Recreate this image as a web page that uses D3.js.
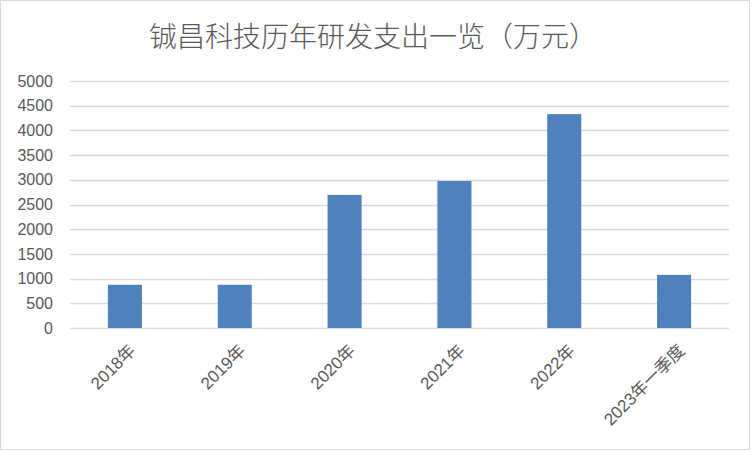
<!DOCTYPE html>
<html>
<head>
<meta charset="utf-8">
<script src="https://cdn.jsdelivr.net/npm/d3@7"></script>
<style>
  html, body { margin: 0; padding: 0; background: #fff; }
</style>
</head>
<body>
<div id="chart"></div>
<script>
// Data
const categories = ["2018年", "2019年", "2020年", "2021年", "2022年", "2023年一季度"];
const spending = [875, 875, 2695, 2975, 4330, 1075];
const yTicks = [0, 500, 1000, 1500, 2000, 2500, 3000, 3500, 4000, 4500, 5000];
const chartTitle = "铖昌科技历年研发支出一览（万元）";

const width = 752;
const height = 452;
const margin = { top: 81, right: 23, bottom: 124, left: 70 };

const svg = d3.select("#chart")
    .append("svg")
    .attr("width", width)
    .attr("height", height);

// outer chart border
svg.append("rect")
    .attr("x", 0.5)
    .attr("y", 0.5)
    .attr("width", width - 3)
    .attr("height", height - 3)
    .attr("fill", "#fff")
    .attr("stroke", "#d9d9d9");

const x = d3.scaleBand()
    .domain(categories)
    .range([margin.left, width - margin.right])
    .paddingInner(0.69)
    .paddingOuter(0.345);

const y = d3.scaleLinear()
    .domain([0, 5000])
    .range([height - margin.bottom, margin.top]);

// gridlines
svg.append("g")
    .selectAll("line")
    .data(yTicks)
    .enter().append("line")
    .attr("x1", margin.left)
    .attr("x2", width - margin.right)
    .attr("y1", d => Math.round(y(d)) + 0.5)
    .attr("y2", d => Math.round(y(d)) + 0.5)
    .attr("stroke", "#d9d9d9")
    .attr("stroke-width", 1.3);

// y axis labels
const yAxis = d3.axisLeft(y)
    .tickValues(yTicks)
    .tickFormat(d3.format("d"))
    .tickSize(0)
    .tickPadding(17);

svg.append("g")
    .attr("transform", `translate(${margin.left},0)`)
    .call(yAxis)
    .call(g => g.select(".domain").remove())
    .selectAll("text")
    .attr("fill", "#595959")
    .style("font-family", "'Liberation Sans', Arial, sans-serif")
    .style("font-size", "16px");

// bars
svg.append("g")
    .selectAll("rect")
    .data(spending)
    .enter().append("rect")
    .attr("x", (d, i) => x(categories[i]))
    .attr("y", d => y(d))
    .attr("width", x.bandwidth())
    .attr("height", d => y(0) - y(d))
    .attr("fill", "#4f81bd");

// x axis labels, rotated
svg.append("g")
    .selectAll("text")
    .data(categories)
    .enter().append("text")
    .attr("transform", d => `translate(${x(d) + x.bandwidth() / 2 + 3},${y(0) + 15}) rotate(-45)`)
    .attr("text-anchor", "end")
    .attr("dy", "0.72em")
    .attr("fill", "#595959")
    .style("font-family", "'Liberation Sans', 'Noto Sans CJK SC', sans-serif")
    .style("font-size", "17px")
    .text(d => d);

// title
svg.append("text")
    .attr("x", width / 2 - 3)
    .attr("y", 47)
    .attr("text-anchor", "middle")
    .attr("fill", "#595959")
    .style("font-family", "'Noto Sans CJK SC', sans-serif")
    .style("font-weight", 300)
    .style("font-size", "28px")
    .text(chartTitle);
</script>
</body>
</html>
